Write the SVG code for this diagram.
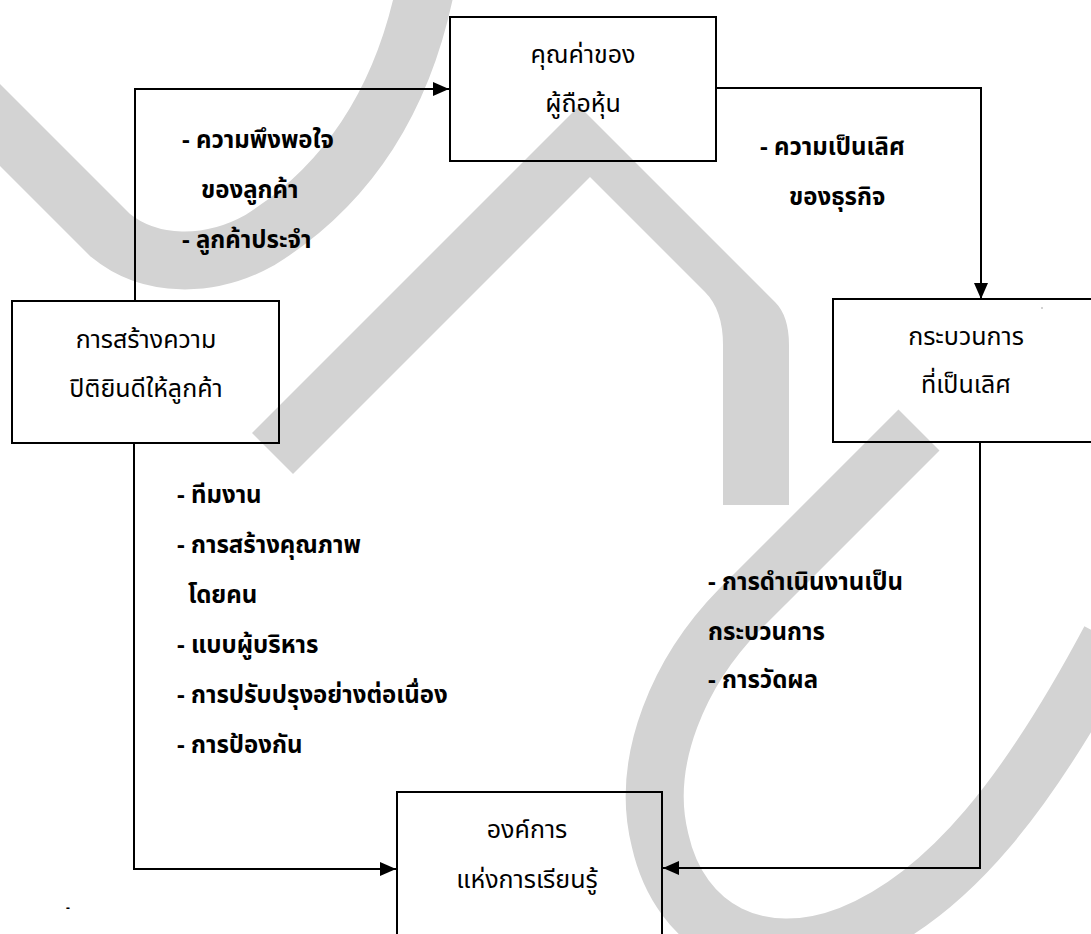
<svg xmlns="http://www.w3.org/2000/svg" width="1091" height="934" viewBox="0 0 1091 934">
<style>
.wm{fill:none;stroke:#d3d3d3;stroke-linecap:butt;stroke-linejoin:miter}
.wmf{fill:#d3d3d3;stroke:none}
.box{fill:none;stroke:#000;stroke-width:2}
.con{fill:none;stroke:#000;stroke-width:2}
.t{font-family:"Noto Sans Thai","Noto Sans","DejaVu Sans",sans-serif;font-size:25px;fill:#000;text-anchor:middle}
.l{font-family:"Noto Sans Thai","Noto Sans","DejaVu Sans",sans-serif;font-size:24px;font-weight:bold;fill:#000}
</style>
<defs>
<marker id="arr" viewBox="0 0 16 14" refX="16" refY="7" markerWidth="16" markerHeight="14" markerUnits="userSpaceOnUse" orient="auto">
<path d="M0,0 L16,7 L0,14 Z" fill="#000"/>
</marker>
</defs>
<rect width="1091" height="934" fill="#fff"/>
<g id="watermark">
<path class="wm" stroke-width="58" d="M-60,65 L110,235 C150,268 210,268 260,240 C340,190 400,110 425,-10"/>
<path class="wmf" d="M252,433 L579,106 L775,302 Q789,316 789,345 L789,505 L723,505 L723,345 Q723,310 705,292 L590,177 L293,474 Z"/>
<path class="wm" stroke-width="58" d="M919,430 L740,609 C680,670 640,760 660,840 C680,930 760,970 850,935 C950,895 1030,790 1110,640"/>
</g>
<g id="connectors">
<path class="con" d="M135,301 V89 H449" marker-end="url(#arr)"/>
<path class="con" d="M716,88 H981 V299" marker-end="url(#arr)"/>
<path class="con" d="M980,442 V868 H663" marker-end="url(#arr)"/>
<path class="con" d="M134,443 V869 H396" marker-end="url(#arr)"/>
</g>
<g id="node-shareholder">
<rect class="box" x="450" y="17" width="266" height="144"/>
<text class="t" x="583" y="63">คุณค่าของ</text>
<text class="t" x="583" y="112">ผู้ถือหุ้น</text>
</g>
<g id="node-customer">
<rect class="box" x="12" y="301" width="267" height="142"/>
<text class="t" x="146" y="348">การสร้างความ</text>
<text class="t" x="146" y="397">ปิติยินดีให้ลูกค้า</text>
</g>
<g id="node-process">
<rect class="box" x="833" y="299" width="280" height="143"/>
<text class="t" x="966" y="345">กระบวนการ</text>
<text class="t" x="966" y="393">ที่เป็นเลิศ</text>
</g>
<g id="node-learning">
<rect class="box" x="397" y="792" width="265" height="170"/>
<text class="t" x="527" y="838">องค์การ</text>
<text class="t" x="527" y="888">แห่งการเรียนรู้</text>
</g>
<g id="labels">
<text class="l" x="182" y="148">- ความพึงพอใจ</text>
<text class="l" x="201" y="198">ของลูกค้า</text>
<text class="l" x="182" y="248">- ลูกค้าประจำ</text>
<text class="l" x="760" y="155">- ความเป็นเลิศ</text>
<text class="l" x="789" y="205">ของธุรกิจ</text>
<text class="l" x="177" y="503">- ทีมงาน</text>
<text class="l" x="177" y="553">- การสร้างคุณภาพ</text>
<text class="l" x="188" y="603">โดยคน</text>
<text class="l" x="177" y="653">- แบบผู้บริหาร</text>
<text class="l" x="177" y="703">- การปรับปรุงอย่างต่อเนื่อง</text>
<text class="l" x="177" y="753">- การป้องกัน</text>
<text class="l" x="708" y="590">- การดำเนินงานเป็น</text>
<text class="l" x="708" y="640">กระบวนการ</text>
<text class="l" x="708" y="688">- การวัดผล</text>
<text class="l" x="66" y="912" style="font-size:12px">-</text>
</g>
<circle cx="1042" cy="308" r="0.8" fill="#999"/>
</svg>
